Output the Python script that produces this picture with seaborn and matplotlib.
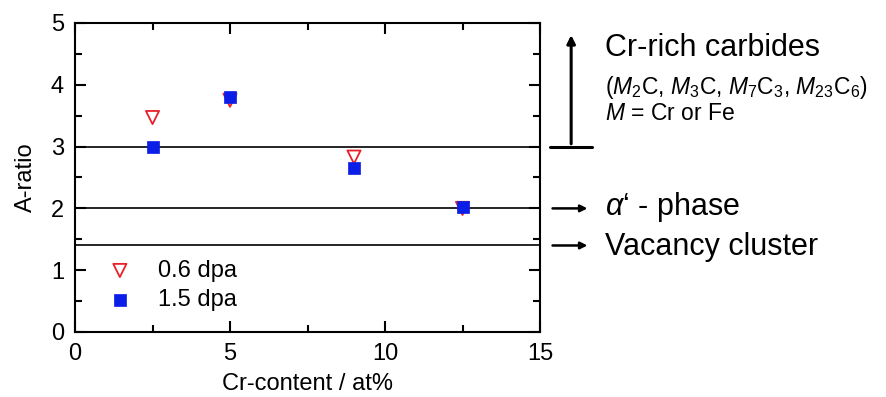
import numpy as np
import pandas as pd
import matplotlib
matplotlib.use("Agg")
import matplotlib.pyplot as plt
import seaborn as sns

# values
cr_content = [2.5, 5.0, 9.0, 12.5]
a_ratio_06dpa = [3.47, 3.75, 2.83, 2.0]
a_ratio_15dpa = [3.0, 3.8, 2.65, 2.03]
ref_levels = [3.0, 2.0, 1.4]

sns.set_style("ticks")
plt.rcParams["font.family"] = ["Liberation Sans", "DejaVu Sans"]
plt.rcParams["mathtext.fontset"] = "custom"
plt.rcParams["mathtext.rm"] = "Liberation Sans"
plt.rcParams["mathtext.it"] = "Liberation Sans:italic"
plt.rcParams["text.color"] = "black"
plt.rcParams["axes.labelcolor"] = "black"
plt.rcParams["xtick.color"] = "black"
plt.rcParams["ytick.color"] = "black"
plt.rcParams["axes.edgecolor"] = "black"

df = pd.DataFrame({
    "cr": cr_content * 2,
    "ratio": a_ratio_06dpa + a_ratio_15dpa,
    "dose": ["0.6 dpa"] * 4 + ["1.5 dpa"] * 4,
})

fig = plt.figure(figsize=(8.87, 3.97), dpi=100)
ax = fig.add_axes([75 / 887, 1 - 332 / 397, 465 / 887, 309 / 397])

for y in ref_levels:
    ax.axhline(y, color="black", lw=1.2, zorder=1)

sns.scatterplot(data=df[df.dose == "0.6 dpa"], x="cr", y="ratio", marker="v",
                s=90, facecolor="none", edgecolor="#e8202a", linewidth=1.3,
                label="0.6 dpa", ax=ax, zorder=3)
sns.scatterplot(data=df[df.dose == "1.5 dpa"], x="cr", y="ratio", marker="s",
                s=70, color="#0a1ee8", edgecolor="#0a1ee8", linewidth=0.5,
                label="1.5 dpa", ax=ax, zorder=4)

ax.set_xlim(0, 15)
ax.set_ylim(0, 5)
ax.set_xticks([0, 5, 10, 15])
ax.set_xticks([2.5, 7.5, 12.5], minor=True)
ax.set_yticks(np.arange(0, 6, 1))
ax.set_yticks(np.arange(0.5, 5, 1), minor=True)
ax.tick_params(which="both", direction="in", top=True, right=True, width=1.5)
ax.tick_params(which="major", length=8, labelsize=17, pad=8)
ax.tick_params(which="minor", length=5)
for sp in ax.spines.values():
    sp.set_linewidth(1.5)
ax.set_xlabel("Cr-content / at%", fontsize=17, labelpad=6)
ax.set_ylabel("A-ratio", fontsize=17, labelpad=10)

ax.legend(loc="lower left", bbox_to_anchor=(0.0, 0.0), frameon=False,
          fontsize=17, handletextpad=0.6, labelspacing=0.3, markerscale=1.0)

# annotations to the right of the axes
tr = ax.get_yaxis_transform()
ax.plot([1.021, 1.112], [3.0, 3.0], color="black", lw=2.2, transform=tr, clip_on=False)
ax.annotate("", xy=(1.067, 4.85), xytext=(1.067, 3.0), xycoords=tr, textcoords=tr,
            arrowprops=dict(arrowstyle="-|>", color="black", lw=2.2, mutation_scale=12))
for y in [2.0, 1.4]:
    ax.annotate("", xy=(1.108, y), xytext=(1.021, y), xycoords=tr, textcoords=tr,
                arrowprops=dict(arrowstyle="-|>", color="black", lw=1.8, mutation_scale=10))

ax.text(1.14, 4.6, "Cr-rich carbides", transform=tr, fontsize=22, va="center")
ax.text(1.14, 3.95, r"($M_2$C, $M_3$C, $M_7$C$_3$, $M_{23}$C$_6$)", transform=tr,
        fontsize=16.5, va="center")
ax.text(1.14, 3.54, r"$M$ = Cr or Fe", transform=tr, fontsize=16.5, va="center")
ax.text(1.14, 2.02, r"$\alpha$‘ - phase", transform=tr, fontsize=22, va="center")
ax.text(1.14, 1.38, "Vacancy cluster", transform=tr, fontsize=22, va="center")

fig.savefig("out.png", dpi=100)
